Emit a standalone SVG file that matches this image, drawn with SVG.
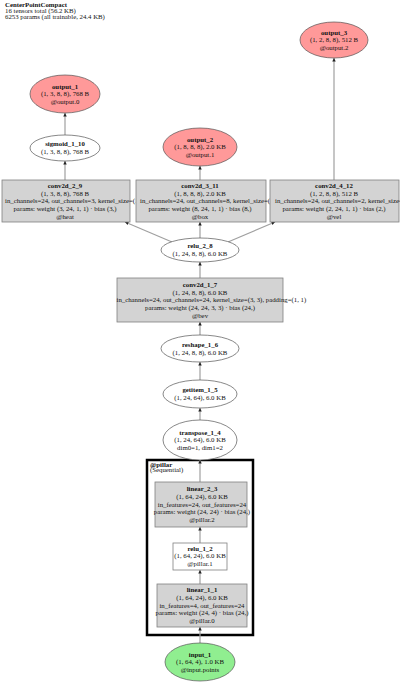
<svg xmlns="http://www.w3.org/2000/svg" width="400" height="682" viewBox="0 0 400 682">
<defs>
<style>
.t{font-family:"Liberation Serif","Times New Roman",serif;font-size:6.8px;fill:#111;text-anchor:middle}
.s{text-anchor:start}
.b{font-weight:bold}
.box{fill:#d3d3d3;stroke:#808080;stroke-width:0.8}
.wbox{fill:#fff;stroke:#808080;stroke-width:0.8}
.ell{fill:#fff;stroke:#555;stroke-width:0.7}
.out{fill:#ff9999;stroke:#555;stroke-width:0.7}
.inp{fill:#90ee90;stroke:#555;stroke-width:0.7}
.e{stroke:#a0a0a0;stroke-width:1.2;fill:none;marker-end:url(#ah)}
</style>
<marker id="ah" viewBox="0 0 10 10" refX="10" refY="5" markerWidth="3.5" markerHeight="3.5" markerUnits="userSpaceOnUse" orient="auto">
<path d="M0,0 L10,5 L0,10 z" fill="#222"/>
</marker>
</defs>
<rect width="400" height="682" fill="#fff"/>
<g id="title">
<text class="t s b" x="5" y="7.3">CenterPointCompact</text>
<text class="t s" x="5" y="12.9">16 tensors total (56.2 KB)</text>
<text class="t s" x="5" y="18.5">6253 params (all trainable, 24.4 KB)</text>
</g>
<g id="cluster_pillar">
<rect x="147" y="460" width="106" height="175" fill="#fff" stroke="#000" stroke-width="2.5"/>
<text class="t s b" x="150" y="466.8">@pillar</text>
<text class="t s" x="150" y="472.4">(Sequential)</text>
</g>
<g id="edges">
<line class="e" x1="200" y1="643" x2="200" y2="627"/>
<line class="e" x1="200" y1="584" x2="200" y2="570"/>
<line class="e" x1="200" y1="543" x2="200" y2="527"/>
<line class="e" x1="200" y1="482" x2="200" y2="460"/>
<line class="e" x1="200" y1="420" x2="200" y2="408"/>
<line class="e" x1="200" y1="380" x2="200" y2="362"/>
<line class="e" x1="200" y1="335" x2="200" y2="322"/>
<line class="e" x1="200" y1="278" x2="200" y2="262"/>
<line class="e" x1="172" y1="242" x2="125" y2="222"/>
<line class="e" x1="200" y1="238" x2="200" y2="222"/>
<line class="e" x1="228" y1="242" x2="275" y2="222"/>
<line class="e" x1="65" y1="180" x2="65" y2="161"/>
<line class="e" x1="65" y1="135" x2="65" y2="113"/>
<line class="e" x1="200" y1="180" x2="200" y2="166"/>
<line class="e" x1="334" y1="180" x2="334" y2="58"/>
</g>
<g id="output_3">
<ellipse class="out" cx="334" cy="40" rx="34" ry="18"/>
<text class="t b" x="334" y="34.5">output_3</text>
<text class="t" x="334" y="42.2">(1, 2, 8, 8), 512 B</text>
<text class="t" x="334" y="49.9">@output.2</text>
</g>
<g id="output_1">
<ellipse class="out" cx="65" cy="94" rx="35" ry="19"/>
<text class="t b" x="65" y="88.5">output_1</text>
<text class="t" x="65" y="96.2">(1, 3, 8, 8), 768 B</text>
<text class="t" x="65" y="103.9">@output.0</text>
</g>
<g id="sigmoid_1_10">
<ellipse class="ell" cx="65" cy="148" rx="35" ry="13"/>
<text class="t b" x="65" y="146.4">sigmoid_1_10</text>
<text class="t" x="65" y="154.1">(1, 3, 8, 8), 768 B</text>
</g>
<g id="output_2">
<ellipse class="out" cx="200" cy="147" rx="37" ry="19"/>
<text class="t b" x="200" y="141.5">output_2</text>
<text class="t" x="200" y="149.2">(1, 8, 8, 8), 2.0 KB</text>
<text class="t" x="200" y="156.9">@output.1</text>
</g>
<g id="conv2d_2_9">
<rect class="box" x="2" y="180" width="128" height="42"/>
<text class="t b" x="65" y="187.8">conv2d_2_9</text>
<text class="t" x="65" y="195.5">(1, 3, 8, 8), 768 B</text>
<text class="t s" x="5" y="203.2">in_channels=24, out_channels=3, kernel_size=(1, 1)</text>
<text class="t" x="65" y="210.9">params: weight (3, 24, 1, 1) · bias (3,)</text>
<text class="t" x="65" y="218.6">@heat</text>
</g>
<g id="conv2d_3_11">
<rect class="box" x="136" y="180" width="130" height="42"/>
<text class="t b" x="200" y="187.8">conv2d_3_11</text>
<text class="t" x="200" y="195.5">(1, 8, 8, 8), 2.0 KB</text>
<text class="t s" x="140" y="203.2">in_channels=24, out_channels=8, kernel_size=(1, 1)</text>
<text class="t" x="200" y="210.9">params: weight (8, 24, 1, 1) · bias (8,)</text>
<text class="t" x="200" y="218.6">@box</text>
</g>
<g id="conv2d_4_12">
<rect class="box" x="270" y="180" width="129" height="42"/>
<text class="t b" x="334" y="187.8">conv2d_4_12</text>
<text class="t" x="334" y="195.5">(1, 2, 8, 8), 512 B</text>
<text class="t s" x="275" y="203.2">in_channels=24, out_channels=2, kernel_size=(1, 1)</text>
<text class="t" x="334" y="210.9">params: weight (2, 24, 1, 1) · bias (2,)</text>
<text class="t" x="334" y="218.6">@vel</text>
</g>
<g id="relu_2_8">
<ellipse class="ell" cx="200" cy="250" rx="39" ry="12"/>
<text class="t b" x="200" y="248.3">relu_2_8</text>
<text class="t" x="200" y="256">(1, 24, 8, 8), 6.0 KB</text>
</g>
<g id="conv2d_1_7">
<rect class="box" x="117" y="278" width="166" height="44"/>
<text class="t b" x="200" y="286.8">conv2d_1_7</text>
<text class="t" x="200" y="294.5">(1, 24, 8, 8), 6.0 KB</text>
<text class="t s" x="116.5" y="302.2">in_channels=24, out_channels=24, kernel_size=(3, 3), padding=(1, 1)</text>
<text class="t" x="200" y="309.9">params: weight (24, 24, 3, 3) · bias (24,)</text>
<text class="t" x="200" y="317.6">@bev</text>
</g>
<g id="reshape_1_6">
<ellipse class="ell" cx="200" cy="348.5" rx="39" ry="13.5"/>
<text class="t b" x="200" y="346.8">reshape_1_6</text>
<text class="t" x="200" y="354.5">(1, 24, 8, 8), 6.0 KB</text>
</g>
<g id="getitem_1_5">
<ellipse class="ell" cx="200" cy="394" rx="37" ry="14"/>
<text class="t b" x="200" y="392.3">getitem_1_5</text>
<text class="t" x="200" y="400">(1, 24, 64), 6.0 KB</text>
</g>
<g id="transpose_1_4">
<ellipse class="ell" cx="200" cy="440" rx="37" ry="20"/>
<text class="t b" x="200" y="434.5">transpose_1_4</text>
<text class="t" x="200" y="442.2">(1, 24, 64), 6.0 KB</text>
<text class="t" x="200" y="449.9">dim0=1, dim1=2</text>
</g>
<g id="linear_2_3">
<rect class="box" x="155" y="482" width="92" height="45"/>
<text class="t b" x="202" y="491.3">linear_2_3</text>
<text class="t" x="202" y="499">(1, 64, 24), 6.0 KB</text>
<text class="t" x="202" y="506.7">in_features=24, out_features=24</text>
<text class="t" x="202" y="514.4">params: weight (24, 24) · bias (24,)</text>
<text class="t" x="202" y="522.1">@pillar.2</text>
</g>
<g id="relu_1_2">
<rect class="wbox" x="173" y="543" width="54" height="27"/>
<text class="t b" x="200" y="550.6">relu_1_2</text>
<text class="t" x="200" y="558.3">(1, 64, 24), 6.0 KB</text>
<text class="t" x="200" y="566">@pillar.1</text>
</g>
<g id="linear_1_1">
<rect class="box" x="157" y="584" width="90" height="43"/>
<text class="t b" x="202" y="592.3">linear_1_1</text>
<text class="t" x="202" y="600">(1, 64, 24), 6.0 KB</text>
<text class="t" x="202" y="607.7">in_features=4, out_features=24</text>
<text class="t" x="202" y="615.4">params: weight (24, 4) · bias (24,)</text>
<text class="t" x="202" y="623.1">@pillar.0</text>
</g>
<g id="input_1">
<ellipse class="inp" cx="200" cy="662" rx="35" ry="19"/>
<text class="t b" x="200" y="656.5">input_1</text>
<text class="t" x="200" y="664.2">(1, 64, 4), 1.0 KB</text>
<text class="t" x="200" y="671.9">@input.points</text>
</g>
</svg>
